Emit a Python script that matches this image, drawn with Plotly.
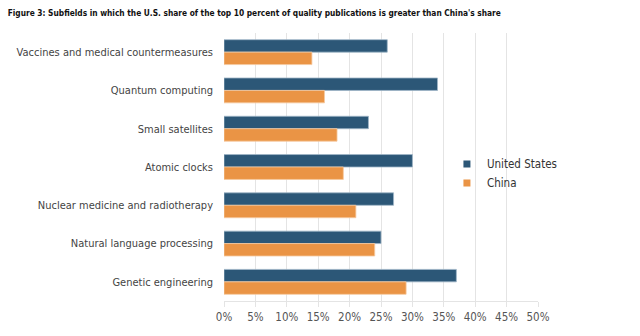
import plotly.graph_objects as go

# Subfields and each country's share of the top 10% of quality publications (%)
subfields = [
    "Vaccines and medical countermeasures",
    "Quantum computing",
    "Small satellites",
    "Atomic clocks",
    "Nuclear medicine and radiotherapy",
    "Natural language processing",
    "Genetic engineering",
]
us_share = [26, 34, 23, 30, 27, 25, 37]
china_share = [14, 16, 18, 19, 21, 24, 29]
tick_values = [0, 5, 10, 15, 20, 25, 30, 35, 40, 45, 50]
tick_labels = [f"{v}%" for v in tick_values]

US_COLOR = "#2c5777"
CHINA_COLOR = "#ea9445"
FONT = "DejaVu Sans Condensed"

fig = go.Figure()
fig.add_trace(go.Bar(
    y=subfields, x=us_share, name="United States", orientation="h",
    marker=dict(color=US_COLOR, line=dict(color="#9fb6c8", width=0.8)),
    showlegend=False,
))
fig.add_trace(go.Bar(
    y=subfields, x=china_share, name="China", orientation="h",
    marker=dict(color=CHINA_COLOR, line=dict(color="#f6c9a0", width=0.8)),
    showlegend=False,
))
# Compact square legend keys
for name, color in [("United States", US_COLOR), ("China", CHINA_COLOR)]:
    fig.add_trace(go.Scatter(
        x=[None], y=[None], mode="markers", name=name,
        marker=dict(symbol="square", size=7, color=color),
    ))

fig.update_layout(
    width=640, height=336,
    margin=dict(l=224, r=102, t=33, b=31),
    paper_bgcolor="white", plot_bgcolor="white",
    barmode="group", bargap=0.35, bargroupgap=0,
    font=dict(family=FONT, size=11, color="#444444"),
    title=dict(
        text="<b>Figure 3: Subfields in which the U.S. share of the top 10 percent of quality publications is greater than China's share</b>",
        x=0.012, xanchor="left", y=0.962, yanchor="middle",
        font=dict(family=FONT, size=8.3, color="#111111"),
    ),
    legend=dict(
        x=0.71, xanchor="left", y=0.476, yanchor="middle",
        font=dict(family=FONT, size=11.5, color="#333333"),
        itemwidth=30, tracegroupgap=0, bgcolor="rgba(0,0,0,0)",
    ),
    showlegend=True,
)
fig.update_xaxes(
    range=[0, 50], tickvals=tick_values, ticktext=tick_labels,
    showgrid=True, gridcolor="#e4e4e4", gridwidth=1,
    zeroline=False, showline=True, linecolor="#e4e4e4",
    ticks="outside", ticklen=5, tickcolor="#e4e4e4",
    tickfont=dict(family=FONT, size=11.5, color="#555555"),
)
fig.update_yaxes(
    autorange="reversed", showgrid=False, ticks="", ticklabelstandoff=10,
    tickfont=dict(family=FONT, size=11, color="#444444"),
)

fig.write_html("out.html")
